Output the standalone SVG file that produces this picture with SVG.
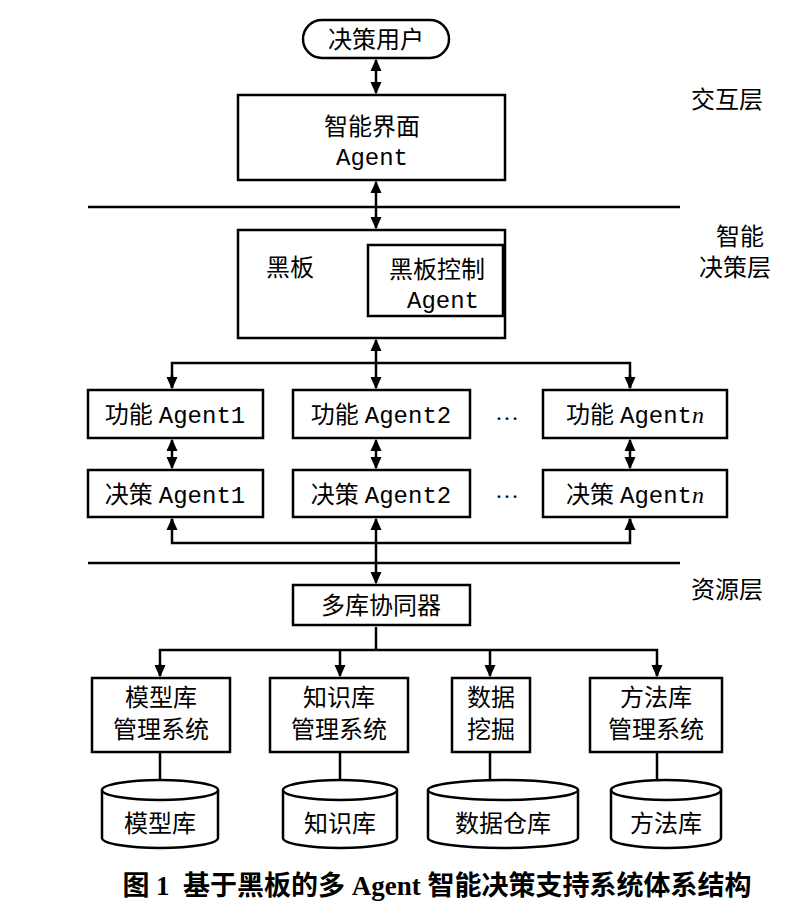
<svg xmlns="http://www.w3.org/2000/svg" width="811" height="918" viewBox="0 0 811 918">
<defs>
<marker id="a" viewBox="0 0 10 10" refX="9" refY="5" markerWidth="5" markerHeight="5" orient="auto-start-reverse"><path d="M0,0.5 L10,5 L0,9.5 z" fill="#000"/></marker>
<style>
.b{fill:#fff;stroke:#000;stroke-width:2.5}
.l{fill:none;stroke:#000;stroke-width:2.5}
text{font-family:"Liberation Serif","Noto Sans CJK SC",serif;font-size:24px;fill:#000;text-anchor:middle}
.m{font-family:"Liberation Mono",monospace}
</style>
</defs>
<rect width="811" height="918" fill="#fff"/>
<g id="layers">
<line x1="88" y1="207" x2="680" y2="207" class="l"/>
<line x1="88" y1="563" x2="680" y2="563" class="l"/>
<text x="727" y="108">交互层</text>
<text x="740" y="245">智能</text>
<text x="735" y="276">决策层</text>
<text x="727" y="598">资源层</text>
</g>
<g id="connectors">
<line x1="376" y1="60" x2="376" y2="93" class="l" marker-start="url(#a)" marker-end="url(#a)"/>
<line x1="376" y1="182" x2="376" y2="228" class="l" marker-start="url(#a)" marker-end="url(#a)"/>
<line x1="376" y1="340" x2="376" y2="388" class="l" marker-start="url(#a)" marker-end="url(#a)"/>
<polyline points="172,388 172,363 630,363 630,388" class="l"/>
<line x1="172" y1="375" x2="172" y2="388" class="l" marker-end="url(#a)"/>
<line x1="630" y1="375" x2="630" y2="388" class="l" marker-end="url(#a)"/>
<line x1="172" y1="440" x2="172" y2="468" class="l" marker-start="url(#a)" marker-end="url(#a)"/>
<line x1="376" y1="440" x2="376" y2="468" class="l" marker-start="url(#a)" marker-end="url(#a)"/>
<line x1="630" y1="440" x2="630" y2="468" class="l" marker-start="url(#a)" marker-end="url(#a)"/>
<polyline points="172,519 172,543 630,543 630,519" class="l"/>
<line x1="172" y1="530" x2="172" y2="519" class="l" marker-end="url(#a)"/>
<line x1="630" y1="530" x2="630" y2="519" class="l" marker-end="url(#a)"/>
<line x1="376" y1="519" x2="376" y2="583" class="l" marker-start="url(#a)" marker-end="url(#a)"/>
<line x1="376" y1="627" x2="376" y2="650" class="l"/>
<polyline points="160,676 160,650 657,650 657,676" class="l"/>
<line x1="160" y1="664" x2="160" y2="676" class="l" marker-end="url(#a)"/>
<line x1="340" y1="650" x2="340" y2="676" class="l" marker-end="url(#a)"/>
<line x1="490" y1="650" x2="490" y2="676" class="l" marker-end="url(#a)"/>
<line x1="657" y1="664" x2="657" y2="676" class="l" marker-end="url(#a)"/>
<line x1="160" y1="752" x2="160" y2="782" class="l"/>
<line x1="340" y1="752" x2="340" y2="782" class="l"/>
<line x1="490" y1="752" x2="490" y2="782" class="l"/>
<line x1="657" y1="752" x2="657" y2="782" class="l"/>
</g>
<g id="user"><rect x="303" y="20" width="146" height="38" rx="19" class="b"/><text x="376" y="48">决策用户</text></g>
<g id="ui"><rect x="238" y="95" width="267" height="85" class="b"/><text x="372" y="135">智能界面</text><text x="372" y="165" class="m">Agent</text></g>
<g id="bb"><rect x="238" y="230" width="267" height="108" class="b"/><text x="290" y="276">黑板</text>
<rect x="368" y="245" width="135" height="71" class="b"/><text x="437" y="278">黑板控制</text><text x="443" y="308" class="m">Agent</text></g>
<g id="f1"><rect x="88" y="390" width="175" height="48" class="b"/><text x="175" y="423">功能 <tspan class="m">Agent1</tspan></text></g>
<g id="f2"><rect x="293" y="390" width="177" height="48" class="b"/><text x="381" y="423">功能 <tspan class="m">Agent2</tspan></text></g>
<g id="f3"><rect x="543" y="390" width="184" height="48" class="b"/><text x="635" y="423">功能 <tspan class="m">Agent</tspan><tspan font-style="italic">n</tspan></text></g>
<text x="507" y="420">…</text>
<g id="d1"><rect x="88" y="470" width="175" height="47" class="b"/><text x="175" y="503">决策 <tspan class="m">Agent1</tspan></text></g>
<g id="d2"><rect x="293" y="470" width="177" height="47" class="b"/><text x="381" y="503">决策 <tspan class="m">Agent2</tspan></text></g>
<g id="d3"><rect x="543" y="470" width="184" height="47" class="b"/><text x="635" y="503">决策 <tspan class="m">Agent</tspan><tspan font-style="italic">n</tspan></text></g>
<text x="507" y="498">…</text>
<g id="coord"><rect x="293" y="585" width="177" height="40" class="b"/><text x="381" y="614">多库协同器</text></g>
<g id="m1"><rect x="92" y="678" width="138" height="74" class="b"/><text x="161" y="706">模型库</text><text x="161" y="738">管理系统</text></g>
<g id="m2"><rect x="270" y="678" width="138" height="74" class="b"/><text x="339" y="706">知识库</text><text x="339" y="738">管理系统</text></g>
<g id="m3"><rect x="452" y="678" width="78" height="74" class="b"/><text x="491" y="706">数据</text><text x="491" y="738">挖掘</text></g>
<g id="m4"><rect x="590" y="678" width="132" height="74" class="b"/><text x="656" y="706">方法库</text><text x="656" y="738">管理系统</text></g>
<g id="c1"><path d="M102,790 V838 A58,10 0 0 0 218,838 V790" class="b"/><ellipse cx="160" cy="790" rx="58" ry="10" class="b"/><text x="160" y="832">模型库</text></g>
<g id="c2"><path d="M283,790 V838 A57,10 0 0 0 397,838 V790" class="b"/><ellipse cx="340" cy="790" rx="57" ry="10" class="b"/><text x="340" y="832">知识库</text></g>
<g id="c3"><path d="M428,790 V838 A75,10 0 0 0 578,838 V790" class="b"/><ellipse cx="503" cy="790" rx="75" ry="10" class="b"/><text x="503" y="832">数据仓库</text></g>
<g id="c4"><path d="M611,790 V838 A55,10 0 0 0 721,838 V790" class="b"/><ellipse cx="666" cy="790" rx="55" ry="10" class="b"/><text x="666" y="832">方法库</text></g>
<text x="437" y="895" xml:space="preserve" style="font-size:27px;font-weight:bold">图 1  基于黑板的多 Agent 智能决策支持系统体系结构</text>
</svg>
